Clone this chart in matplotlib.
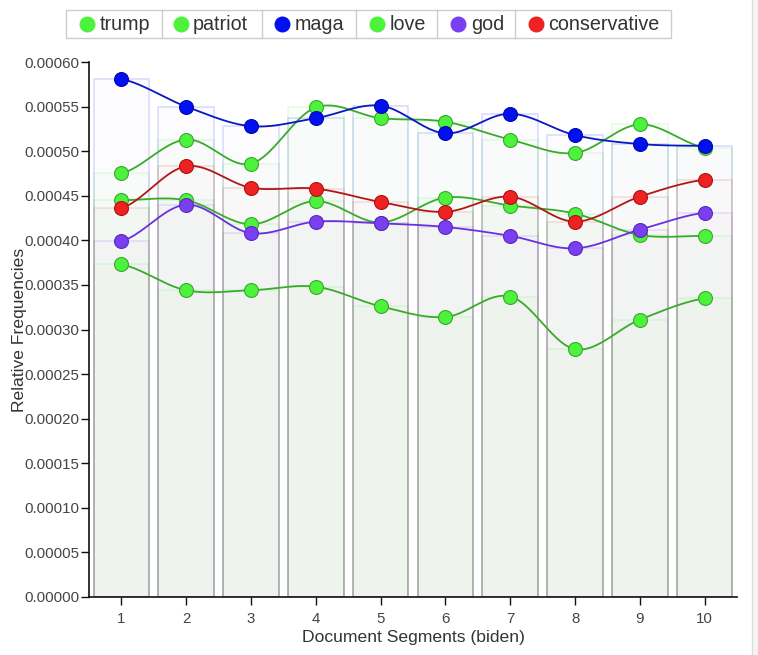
import numpy as np
import matplotlib
matplotlib.use("Agg")
import matplotlib.pyplot as plt
from matplotlib.patches import Rectangle
from matplotlib.lines import Line2D

plt.rcParams['font.family'] = ['Liberation Sans', 'DejaVu Sans']

segments = [1, 2, 3, 4, 5, 6, 7, 8, 9, 10]
terms = ['trump', 'patriot', 'maga', 'love', 'god', 'conservative']

trump = [0.000475, 0.000513, 0.000486, 0.000549, 0.000537, 0.000533, 0.000513, 0.000498, 0.000530, 0.000504]
patriot = [0.000445, 0.000445, 0.000418, 0.000444, 0.000420, 0.000448, 0.000439, 0.000430, 0.000406, 0.000405]
maga = [0.000581, 0.000550, 0.000528, 0.000537, 0.000551, 0.000520, 0.000542, 0.000518, 0.000508, 0.000506]
love = [0.000373, 0.000344, 0.000344, 0.000348, 0.000326, 0.000314, 0.000337, 0.000278, 0.000311, 0.000335]
god = [0.000399, 0.000440, 0.000408, 0.000421, 0.000419, 0.000415, 0.000405, 0.000391, 0.000412, 0.000431]
conservative = [0.000436, 0.000483, 0.000459, 0.000458, 0.000443, 0.000432, 0.000449, 0.000421, 0.000449, 0.000468]

series = [trump, patriot, maga, love, god, conservative]
fills = ['#4cf23c', '#4cf23c', '#0010ee', '#4cf23c', '#7a3ff0', '#ee2222']
lines = ['#3aaa2a', '#3aaa2a', '#0a18c0', '#3aaa2a', '#6a30e0', '#b01818']
edges = ['#3aa82e', '#3aa82e', '#0008b0', '#3aa82e', '#5a28c0', '#b01010']
bar_alpha = [0.02, 0.02, 0.012, 0.02, 0.012, 0.012]


def smooth(x, y, n=24):
    # uniform catmull-rom through the points
    x = np.asarray(x, float)
    y = np.asarray(y, float)
    yp = np.concatenate([[y[0]], y, [y[-1]]])
    xs, ys = [], []
    for i in range(len(x) - 1):
        p0, p1, p2, p3 = yp[i], yp[i + 1], yp[i + 2], yp[i + 3]
        m1 = (p2 - p0) / 2
        m2 = (p3 - p1) / 2
        t = np.linspace(0, 1, n, endpoint=(i == len(x) - 2))
        h00 = 2 * t**3 - 3 * t**2 + 1
        h10 = t**3 - 2 * t**2 + t
        h01 = -2 * t**3 + 3 * t**2
        h11 = t**3 - t**2
        xs.append(x[i] + t * (x[i + 1] - x[i]))
        ys.append(h00 * p1 + h10 * m1 + h01 * p2 + h11 * m2)
    return np.concatenate(xs), np.concatenate(ys)


W, H = 758, 655
fig = plt.figure(figsize=(7.58, 6.55), dpi=100)
ax = fig.add_axes([89 / W, 1 - 597 / H, (737 - 89) / W, (597 - 62) / H])

for vals, fc, a in zip(series, fills, bar_alpha):
    ax.bar(segments, vals, width=0.86, facecolor=matplotlib.colors.to_rgba(fc, a),
           edgecolor=matplotlib.colors.to_rgba(fc, 0.13), linewidth=1.3, zorder=1)

for vals, fc, lc, ec in zip(series, fills, lines, edges):
    sx, sy = smooth(segments, vals)
    ax.plot(sx, sy, color=lc, lw=1.3, zorder=3)
    ax.plot(segments, vals, 'o', ms=10, mfc=fc, mec=ec, mew=0.8, zorder=4)

ax.set_xlim(0.5, 10.5)
ax.set_ylim(0, 0.0006)
ax.set_xticks(segments)
yt = np.arange(0, 0.00061, 0.00005)
ax.set_yticks(yt)
ax.set_yticklabels(['%.5f' % v for v in yt])
ax.tick_params(axis='both', labelsize=10.8, colors='#111111', labelcolor='#444444', length=6, width=1, pad=1)
ax.tick_params(axis='x', pad=5)
for s in ['top', 'right']:
    ax.spines[s].set_visible(False)
for s in ['left', 'bottom']:
    ax.spines[s].set_linewidth(1.2)
    ax.spines[s].set_color('#111111')
ax.set_xlabel('Document Segments (biden)', fontsize=12.6, color='#333333', labelpad=3)
ax.set_ylabel('Relative Frequencies', fontsize=12.6, color='#333333', labelpad=-2)

# legend box with dividers
box_l, box_r, box_t, box_b = 66, 671, 10, 38
fig.patches.append(Rectangle((box_l / W, 1 - box_b / H), (box_r - box_l) / W, (box_b - box_t) / H,
                             transform=fig.transFigure, facecolor='white', edgecolor='#cccccc', lw=1))
dividers = [161.6, 261.6, 355.7, 437.5, 515.3]
for d in dividers:
    fig.add_artist(Line2D([d / W, d / W], [1 - box_b / H, 1 - box_t / H], transform=fig.transFigure,
                          color='#cccccc', lw=1))
marker_x = [87, 180.5, 282, 377, 458.4, 536]
ymid = 1 - 24 / H
for name, mx, fc in zip(terms, marker_x, fills):
    fig.add_artist(Line2D([mx / W], [ymid], transform=fig.transFigure, marker='o', ms=10.5,
                          mfc=fc, mec=fc, ls=''))
    fig.text((mx + 12.5) / W, ymid, name, fontsize=14.2, color='#333333', va='center', ha='left')

# grey strip at the right edge
fig.patches.append(Rectangle((752 / W, 0), 6 / W, 1, transform=fig.transFigure,
                             facecolor='#f4f4f4', edgecolor='none'))
fig.add_artist(Line2D([752 / W, 752 / W], [0, 1], transform=fig.transFigure, color='#dddddd', lw=1))

fig.savefig('out.png', dpi=100)
